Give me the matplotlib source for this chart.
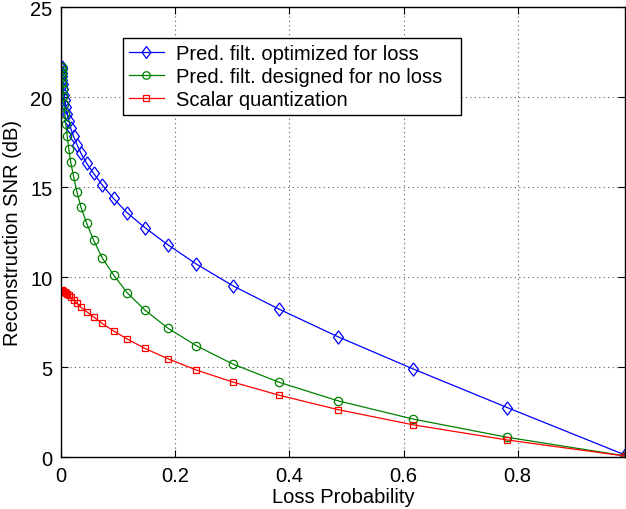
import numpy as np
import matplotlib
matplotlib.use("Agg")
import matplotlib.pyplot as plt

plt.rcParams['font.family'] = ['Liberation Sans', 'DejaVu Sans']

# loss probabilities (largest first)
loss_prob = [0.988, 0.782, 0.616, 0.485, 0.382, 0.301, 0.237, 0.187, 0.147, 0.116,
             0.092, 0.072, 0.057, 0.045, 0.035, 0.028, 0.022, 0.017, 0.0136, 0.0107,
             0.0084, 0.0066, 0.0052, 0.0041, 0.0033, 0.0026, 0.0020, 0.0016, 0.0013, 0.0010]

snr_opt = [0.13, 2.76, 4.92, 6.70, 8.23, 9.53, 10.74, 11.81, 12.76, 13.58,
           14.38, 15.14, 15.78, 16.33, 16.89, 17.37, 17.83, 18.28, 18.70, 19.10,
           19.48, 19.83, 20.15, 20.45, 20.72, 20.96, 21.18, 21.37, 21.55, 21.70]

snr_noloss = [0.08, 1.11, 2.13, 3.14, 4.17, 5.18, 6.20, 7.18, 8.18, 9.14,
              10.13, 11.09, 12.07, 13.00, 13.89, 14.74, 15.61, 16.40, 17.15, 17.87,
              18.50, 19.07, 19.65, 20.08, 20.45, 20.79, 21.11, 21.34, 21.52, 21.71]

snr_scalar = [0.07, 0.96, 1.81, 2.65, 3.45, 4.18, 4.85, 5.48, 6.05, 6.57,
              7.02, 7.44, 7.80, 8.09, 8.33, 8.55, 8.74, 8.90, 9.00, 9.07,
              9.12, 9.16, 9.19, 9.21, 9.23, 9.24, 9.25, 9.26, 9.27, 9.27]

labels = ["Pred. filt. optimized for loss",
          "Pred. filt. designed for no loss",
          "Scalar quantization"]

# matlab style diamond, a bit wider than matplotlib's thin one
diamond = [(0, 1), (0.75, 0), (0, -1), (-0.75, 0), (0, 1)]

W, H = 626, 510
fig = plt.figure(figsize=(W / 100, H / 100), dpi=100)
ax = fig.add_axes([61 / W, 1 - 458.3 / H, (625 - 61) / W, 450 / H])

ax.plot(loss_prob, snr_opt, color='#0000ff', lw=0.9, marker=diamond, ms=9.5,
        mfc='none', mec='#0000ff', mew=0.9, label=labels[0])
ax.plot(loss_prob, snr_noloss, color='#008000', lw=0.9, marker='o', ms=6,
        mfc='none', mec='#008000', mew=0.9, label=labels[1])
ax.plot(loss_prob, snr_scalar, color='#ff0000', lw=0.9, marker='s', ms=5,
        mfc='none', mec='#ff0000', mew=0.9, label=labels[2])

ax.set_xlim(0, 0.988)
ax.set_ylim(0, 25)
ax.set_xticks([0, 0.2, 0.4, 0.6, 0.8])
ax.set_xticklabels(["0", "0.2", "0.4", "0.6", "0.8"])
ax.set_yticks([0, 5, 10, 15, 20, 25])
ax.tick_params(direction='in', length=5, width=0.8, labelsize=14.5,
               top=True, right=True, pad=6)
ax.grid(True, linestyle=(0, (1, 3)), color='0.35', lw=0.8)
for s in ax.spines.values():
    s.set_linewidth(1.0)

ax.set_xlabel("Loss Probability", fontsize=14.5, labelpad=2)
ax.set_ylabel("Reconstruction SNR (dB)", fontsize=14.5, labelpad=6)

leg = ax.legend(loc='upper left', mode='expand',
                bbox_to_anchor=(123.3 / W, 1 - 112.7 / H, (460.7 - 123.3) / W, (112.7 - 39.3) / H),
                bbox_transform=fig.transFigure, borderaxespad=0, fontsize=14.5,
                labelspacing=0.2, handlelength=1.7, handletextpad=0.6,
                borderpad=0.3, fancybox=False, framealpha=1, edgecolor='black')
leg.get_frame().set_linewidth(1.0)
for h in leg.legend_handles:
    h.set_markersize(h.get_markersize() * 0.9)

fig.savefig("out.png", dpi=100)
